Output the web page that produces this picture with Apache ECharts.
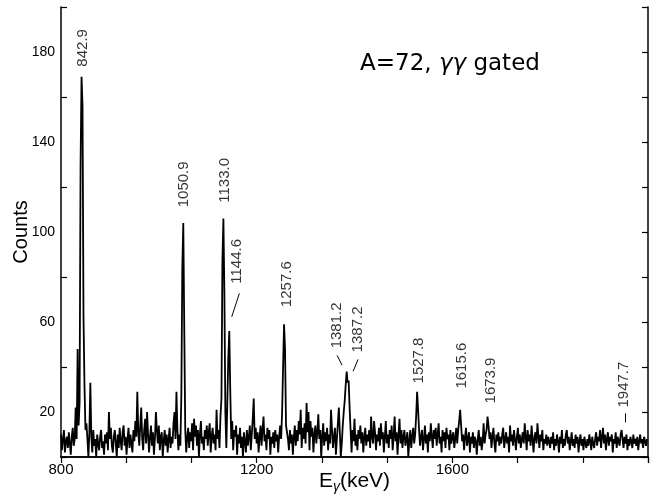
<!DOCTYPE html>
<html>
<head>
<meta charset="utf-8">
<script src="https://cdn.jsdelivr.net/npm/echarts@6/dist/echarts.min.js"></script>
<style>
  html, body { margin: 0; padding: 0; background: #fff; }
  #chart { width: 658px; height: 501px; }
</style>
</head>
<body>
<div id="chart"></div>
<script>
// spectrum: 2 keV bins starting at 800 keV
const binStart = 800
const binWidth = 2

const counts0800 = [10,3,8,12,2,7,9,4,11,6, 1,9,13,5,8,22,8,48,14,24, 130,169,156,62,32,12,15,8,0,11, 33,9,2,12,5,8,0,10,6,3, 9,12,4,7,1,10,6,11,3,20]
const counts0900 = [8,13,5,2,9,12,6,0,10,4, 13,7,3,11,14,5,9,1,8,13, 4,10,6,2,12,7,16,9,29,11, 5,14,22,8,3,12,17,6,20,10, 2,9,14,5,11,1,8,20,12,6]
const counts1000 = [14,3,9,11,0,7,12,5,10,2, 8,13,4,9,6,15,20,8,29,12, 3,10,5,27,84,104,57,12,2,9, 13,4,11,7,15,3,17,9,14,5, 12,0,10,16,6,9,3,12,8,14]
const counts1100 = [5,11,15,2,9,13,6,10,3,21, 8,12,4,18,26,87,106,73,20,4, 24,44,56,30,8,16,3,12,9,14, 1,10,6,13,4,9,0,11,7,2, 12,5,9,14,3,10,17,26,8,13]
const counts1200 = [6,11,2,9,14,5,12,18,7,10, 3,13,8,12,1,9,6,11,4,12, 7,10,2,9,14,8,20,40,59,48, 14,11,8,3,12,6,10,1,9,14, 5,12,7,16,10,21,4,13,8,15]
const counts1300 = [6,24,11,20,3,16,9,13,2,10, 14,6,11,19,8,12,0,9,15,5, 11,7,13,3,10,6,21,12,4,9, 13,1,8,15,22,11,0,6,14,20, 25,32,38,33,34,22,12,2,12,7]
const counts1400 = [17,5,10,3,12,8,14,6,11,2, 9,13,5,10,7,12,4,18,9,6, 16,11,3,10,7,13,5,15,8,11, 2,9,16,6,10,4,12,8,14,3, 9,18,7,11,1,10,17,6,12,4]
const counts1500 = [9,12,5,8,11,0,7,12,4,9, 13,6,10,18,29,21,12,5,9,12, 3,8,14,6,10,2,11,7,15,9, 4,12,8,13,5,10,15,6,9,2, 12,7,11,4,13,8,10,3,12,6]
const counts1600 = [9,11,4,8,13,6,12,16,21,14, 7,10,3,9,13,5,8,11,2,9, 6,11,4,9,7,1,8,12,5,9, 3,7,15,6,10,12,18,14,8,11, 4,9,13,6,2,10,7,11,5,9]
const counts1700 = [6,10,13,4,8,11,6,9,2,14, 7,10,5,12,8,3,9,13,6,10, 4,8,11,6,15,9,3,12,7,10, 5,14,8,2,9,11,6,15,9,4, 10,7,12,3,8,6,10,5,9,7]
const counts1800 = [4,9,6,11,3,8,5,10,7,2, 9,6,12,4,8,5,10,12,6,9, 3,7,11,5,8,4,10,6,9,2, 7,10,5,8,3,9,6,4,8,5, 10,7,3,9,6,4,8,11,5,9]
const counts1900 = [7,12,4,9,13,6,10,3,8,11, 5,9,7,10,2,8,6,11,4,9, 7,5,10,12,8,4,9,6,10,3, 8,5,9,7,4,10,6,8,5,9, 3,7,10,6,8,4,9,7,5,8]

const counts = [].concat(counts0800, counts0900, counts1000, counts1100, counts1200, counts1300,
                         counts1400, counts1500, counts1600, counts1700, counts1800, counts1900)

// peak labels: [energy, counts at the foot of the text]
const peakNames   = ['842.9', '1050.9', '1133.0', '1144.6', '1257.6', '1381.2', '1387.2', '1527.8', '1615.6', '1673.9', '1947.7']
const peakLabelAt = [[844, 173.5], [1051, 111], [1134, 113], [1160, 77], [1261, 66.6], [1364, 48.3], [1407, 46.5], [1531, 32.7], [1620, 30.4], [1678, 23.8], [1951, 22]]
const leaderLines = [
  [[1149, 62.3], [1164.6, 72.7]],
  [[1364.4, 45.2], [1374.6, 40.8]],
  [[1397.1, 38.1], [1407.4, 43.4]],
  [[1953, 15.4], [1953, 19.4]],
]

const xTicks = [800, 1200, 1600]
const yLabelled = [20, 60, 100, 140, 180]

const font = 'Liberation Sans, Arial, sans-serif'
const chart = echarts.init(document.getElementById('chart'))

const axisLine = { show: true, lineStyle: { color: '#000', width: 1.5 } }
const tickIn = { show: true, inside: true, length: 6, lineStyle: { color: '#000', width: 1.2 } }

chart.setOption({
  animation: false,
  backgroundColor: '#fff',
  title: {
    text: '{a|A=72, }{g|γγ}{a| gated}',
    left: 355,
    top: 48,
    textStyle: {
      fontWeight: 'normal',
      rich: {
        a: { fontFamily: 'DejaVu Sans, sans-serif', fontSize: 23, fontWeight: 'normal', color: '#000' },
        g: { fontFamily: 'DejaVu Sans, sans-serif', fontSize: 23, fontWeight: 'normal', fontStyle: 'italic', color: '#000' },
      }
    }
  },
  grid: { left: 61, right: 10, top: 7, bottom: 44, containLabel: false, outerBoundsMode: 'none' },
  xAxis: [{
    type: 'value',
    position: 'bottom',
    min: 800,
    max: 2000,
    interval: 400 / 3,
    axisLine,
    axisTick: { show: false },
    splitLine: { show: false },
    axisLabel: {
      margin: 5,
      color: '#000',
      fontFamily: font,
      fontSize: 15,
      formatter: v => xTicks.includes(Math.round(v)) ? String(Math.round(v)) : ''
    },
    name: 'E{sub|γ}(keV)',
    nameLocation: 'middle',
    nameGap: 11,
    nameMoveOverlap: false,
    nameTextStyle: {
      color: '#000',
      fontFamily: font,
      fontSize: 21,
      verticalAlign: 'top',
      rich: { sub: { fontSize: 14, fontStyle: 'italic', verticalAlign: 'bottom', padding: [12, 0, 0, 0], color: '#000' } }
    }
  }, {
    type: 'value',
    position: 'top',
    min: 800,
    max: 2000,
    interval: 400 / 3,
    axisLine,
    axisTick: tickIn,
    axisLabel: { show: false },
    splitLine: { show: false }
  }],
  yAxis: [{
    type: 'value',
    position: 'left',
    min: 0,
    max: 200,
    interval: 40,
    axisLine,
    axisTick: tickIn,
    axisLabel: { show: false },
    splitLine: { show: false }
  }, {
    type: 'value',
    position: 'left',
    min: 0,
    max: 200,
    interval: 20,
    axisLine: { show: false },
    axisTick: { show: false },
    splitLine: { show: false },
    axisLabel: {
      margin: 6,
      color: '#000',
      fontFamily: font,
      fontSize: 14,
      formatter: v => yLabelled.includes(v) ? String(v) : ''
    },
    name: 'Counts',
    nameLocation: 'middle',
    nameRotate: 90,
    nameGap: 30,
    nameMoveOverlap: false,
    nameTextStyle: { color: '#000', fontFamily: font, fontSize: 20 }
  }, {
    type: 'value',
    position: 'right',
    min: 0,
    max: 200,
    interval: 20,
    axisLine,
    axisTick: tickIn,
    axisLabel: { show: false },
    splitLine: { show: false }
  }],
  series: [{
    type: 'line',
    xAxisIndex: 0,
    yAxisIndex: 0,
    showSymbol: false,
    symbol: 'none',
    lineStyle: { color: '#000', width: 1.8 },
    data: counts.map((c, i) => [binStart + i * binWidth, c]),
    z: 2
  }, {
    type: 'scatter',
    xAxisIndex: 0,
    yAxisIndex: 0,
    symbolSize: 0,
    label: {
      show: true,
      position: 'inside',
      rotate: 90,
      align: 'left',
      verticalAlign: 'middle',
      color: '#000',
      fontFamily: font,
      fontSize: 15,
      formatter: p => peakNames[p.dataIndex]
    },
    data: peakLabelAt,
    z: 3
  }, {
    type: 'lines',
    coordinateSystem: 'cartesian2d',
    xAxisIndex: 0,
    yAxisIndex: 0,
    lineStyle: { color: '#000', width: 1, opacity: 1 },
    data: leaderLines.map(c => ({ coords: c })),
    z: 3
  }]
})
</script>
</body>
</html>
